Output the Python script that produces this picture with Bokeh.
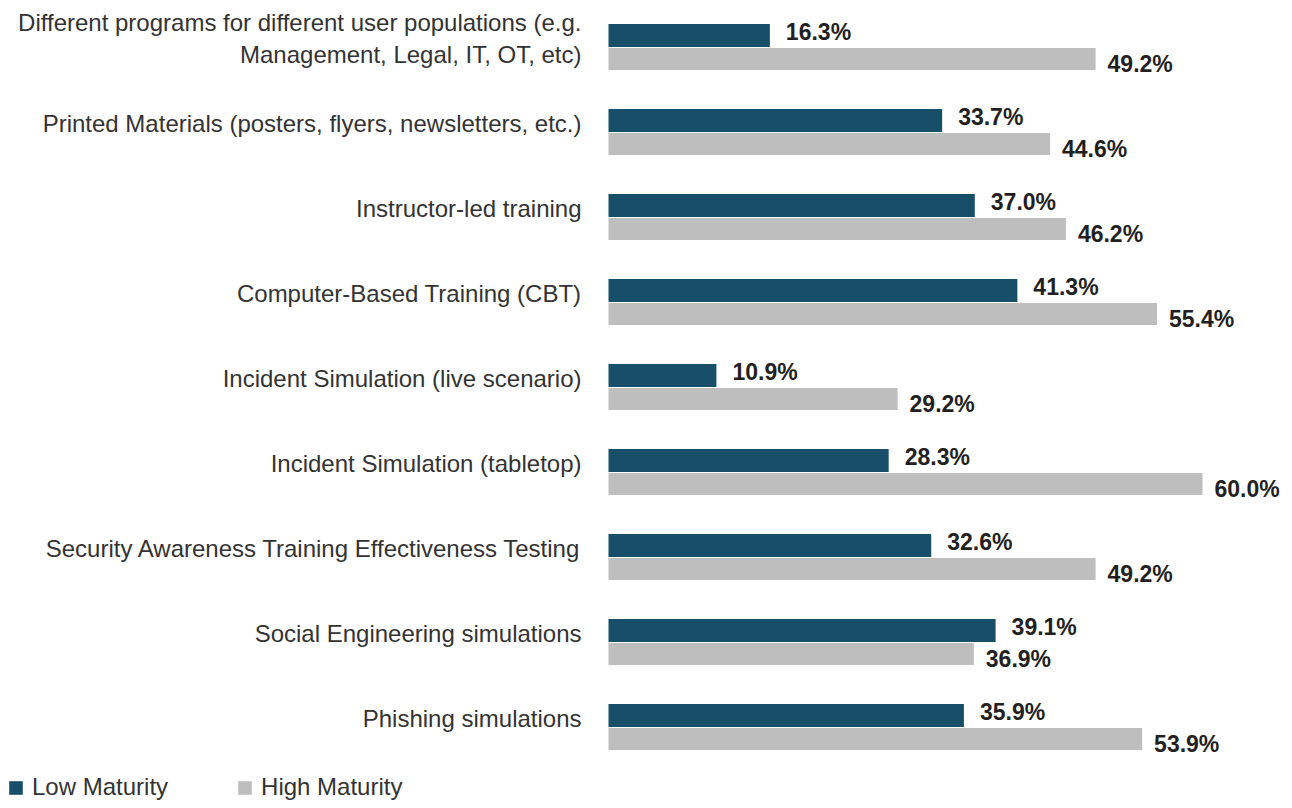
from bokeh.plotting import figure
from bokeh.models import ColumnDataSource, Range1d, Legend, LegendItem
from bokeh.core.properties import value
from bokeh.embed import file_html
from bokeh.resources import INLINE

categories = [
    "Different programs for different user populations (e.g.\nManagement, Legal, IT, OT, etc)",
    "Printed Materials (posters, flyers, newsletters, etc.)",
    "Instructor-led training",
    "Computer-Based Training (CBT)",
    "Incident Simulation (live scenario)",
    "Incident Simulation (tabletop)",
    "Security Awareness Training Effectiveness Testing",
    "Social Engineering simulations",
    "Phishing simulations",
]
low_maturity = [16.3, 33.7, 37.0, 41.3, 10.9, 28.3, 32.6, 39.1, 35.9]
high_maturity = [49.2, 44.6, 46.2, 55.4, 29.2, 60.0, 49.2, 36.9, 53.9]
series_names = ["Low Maturity", "High Maturity"]

DARK = "#174f69"
GREY = "#bebebf"
FONT = "Liberation Sans"

W, H = 1284, 800
x0_px, px_per_unit = 608, 9.9
first_px, row_px = 47, 85

idx = list(range(len(categories)))
src = ColumnDataSource(dict(
    cat=categories,
    y=idx,
    y_low=[i - 12 / row_px for i in idx],
    y_high=[i + 11.5 / row_px for i in idx],
    low=low_maturity,
    high=high_maturity,
    low_lbl=[f"{v:.1f}%" for v in low_maturity],
    high_lbl=[f"{v:.1f}%" for v in high_maturity],
    zero=[0] * len(idx),
))

p = figure(
    width=W, height=H,
    x_range=Range1d(-x0_px / px_per_unit, (W - x0_px) / px_per_unit),
    y_range=Range1d((H - first_px) / row_px, -first_px / row_px),
    x_axis_location=None, y_axis_location=None,
    toolbar_location=None, output_backend="svg",
    min_border=0, outline_line_color=None,
)
p.xgrid.visible = False
p.ygrid.visible = False

r_low = p.hbar(y="y_low", left=0, right="low", height=23 / row_px, source=src,
               fill_color=DARK, line_color=None)
r_high = p.hbar(y="y_high", left=0, right="high", height=22 / row_px, source=src,
                fill_color=GREY, line_color=None)

p.text(x="low", y="y_low", text="low_lbl", source=src, x_offset=16, y_offset=-4,
       text_align="left", text_baseline="middle", text_font=value(FONT),
       text_font_style="bold", text_font_size="23px", text_color="#231f20")
p.text(x="high", y="y_high", text="high_lbl", source=src, x_offset=12, y_offset=5,
       text_align="left", text_baseline="middle", text_font=value(FONT),
       text_font_style="bold", text_font_size="23px", text_color="#231f20")

p.text(x="zero", y="y", text="cat", source=src, x_offset=-27, y_offset=-9,
       text_align="right", text_baseline="middle", text_font=value(FONT),
       text_font_size="24px", text_color="#333333", text_line_height=1.17)

legend = Legend(
    items=[LegendItem(label=series_names[0], renderers=[r_low]),
           LegendItem(label=series_names[1], renderers=[r_high])],
    orientation="horizontal", location=(7, -1),
    glyph_width=17, glyph_height=17, label_height=13, label_standoff=8,
    spacing=68, padding=0, margin=0,
    border_line_color=None, background_fill_alpha=0,
    label_text_font=FONT, label_text_font_size="24px", label_text_color="#333333",
)
p.add_layout(legend)

open("out.html", "w").write(file_html(p, INLINE))
